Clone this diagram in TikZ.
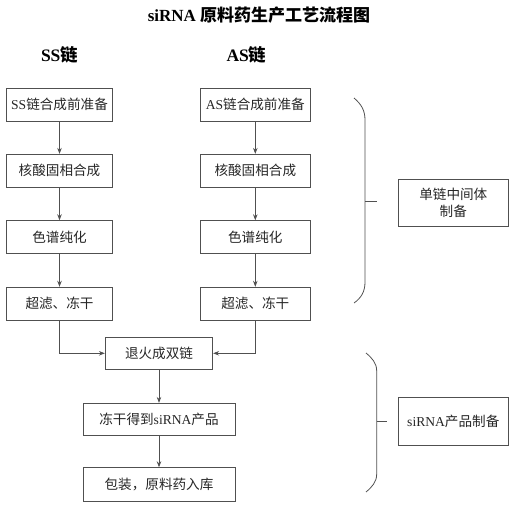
\documentclass[tikz,border=0pt]{standalone}
\usepackage{fontspec}
\setmainfont{Liberation Serif}
\newfontfamily\cjk{Noto Sans CJK SC}
\usetikzlibrary{arrows.meta}
\newcommand\lat[1]{{\rmfamily #1}}
\definecolor{ln}{HTML}{505050}
\begin{document}
\begin{tikzpicture}[x=1pt,y=-1pt,
  box/.style={draw=ln,line width=0.8pt,inner sep=0pt,minimum height=33pt,font=\fontsize{13.6}{17}\selectfont\cjk,text=black!85},
  conn/.style={draw=ln,line width=0.8pt,-{Stealth[length=6pt,width=4.5pt]}},
  brace/.style={draw=ln,line width=0.8pt},
  head/.style={font=\fontsize{17.5}{21}\selectfont\bfseries}]
\useasboundingbox (0,0) rectangle (516,508);
\node[font=\fontsize{17}{21}\selectfont\bfseries] (title) at (259,15) {siRNA {\cjk\bfseries 原料药生产工艺流程图}};
\node[head] (ssh) at (59.5,55) {SS{\cjk\bfseries 链}};
\node[head] (ash) at (246.5,55) {AS{\cjk\bfseries 链}};
% left column
\node[box,minimum width=105.6pt] (s1) at (59.5,104.7) {\lat{SS}链合成前准备};
\node[box,minimum width=105.6pt] (s2) at (59.5,170.8) {核酸固相合成};
\node[box,minimum width=105.6pt] (s3) at (59.5,237.2) {色谱纯化};
\node[box,minimum width=105.6pt] (s4) at (59.5,303.7) {超滤、冻干};
% right column
\node[box,minimum width=110.5pt] (a1) at (255.3,104.7) {\lat{AS}链合成前准备};
\node[box,minimum width=110.5pt] (a2) at (255.3,170.8) {核酸固相合成};
\node[box,minimum width=110.5pt] (a3) at (255.3,237.2) {色谱纯化};
\node[box,minimum width=110.5pt] (a4) at (255.3,303.7) {超滤、冻干};
% bottom
\node[box,minimum width=107.4pt,minimum height=32pt] (an) at (159,353.3) {退火成双链};
\node[box,minimum width=152pt,minimum height=32pt] (fd) at (159,419.3) {冻干得到\lat{siRNA}产品};
\node[box,minimum width=152pt,minimum height=34pt] (pk) at (159,484.7) {包装，原料药入库};
% side boxes
\node[box,minimum width=110pt,minimum height=47.4pt,align=center] (sa) at (453.3,203) {单链中间体\\制备};
\node[box,minimum width=110pt,minimum height=47.6pt] (sb) at (453.3,421.5) {\lat{siRNA}产品制备};
% arrows
\draw[conn] (s1) -- (s2);
\draw[conn] (s2) -- (s3);
\draw[conn] (s3) -- (s4);
\draw[conn] (a1) -- (a2);
\draw[conn] (a2) -- (a3);
\draw[conn] (a3) -- (a4);
\draw[conn] (s4.south) |- (an.west);
\draw[conn] (a4.south) |- (an.east);
\draw[conn] (an) -- (fd);
\draw[conn] (fd) -- (pk);
% braces
\draw[brace] (354,98) .. controls (361,104) and (365,110) .. (365,120) -- (365,282) .. controls (365,292) and (361,298) .. (354,303);
\draw[brace] (365,201) -- (377,201);
\draw[brace] (366,353) .. controls (372,358) and (376.7,363) .. (376.7,371) -- (376.7,474) .. controls (376.7,482) and (372,487) .. (366,492);
\draw[brace] (376.7,421.7) -- (387,421.7);
\end{tikzpicture}
\end{document}
